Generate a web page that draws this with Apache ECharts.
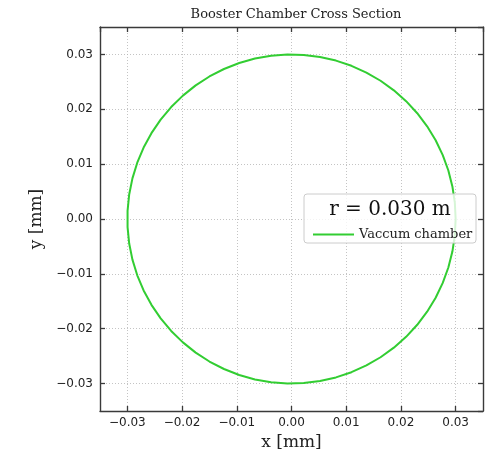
<!DOCTYPE html>
<html>
<head>
<meta charset="utf-8">
<script src="https://cdn.jsdelivr.net/npm/echarts@6/dist/echarts.min.js"></script>
<style>
  html, body { margin: 0; padding: 0; background: #fff; }
  #chart { width: 500px; height: 457px; }
</style>
</head>
<body>
<div id="chart"></div>
<script>
// Vacuum chamber outline: a circle of this radius (metres), drawn as a polygon
const chamberRadius = 0.030;
const vertexCount = 64;
const seriesName = 'Vaccum chamber';
const axisLimits = [-0.035, 0.035];

const outline = [];
for (let i = 0; i < vertexCount; i++) {
  const t = 2 * Math.PI * i / (vertexCount - 1);
  outline.push([chamberRadius * Math.cos(t), chamberRadius * Math.sin(t)]);
}

const SERIF = 'DejaVu Serif';
const SANS = 'DejaVu Sans';
const FRAME = '#3a3a3a';
const LINE_GREEN = '#32cd32';

function tickText(v) {
  const r = Math.round(v * 100) / 100;
  if (Math.abs(r) < 1e-12) return '0.00';
  return (r < 0 ? '\u2212' : '') + Math.abs(r).toFixed(2);
}

function mainAxis(name, pos, gap) {
  return {
    type: 'value', position: pos,
    min: axisLimits[0], max: axisLimits[1],
    minInterval: 0.01, maxInterval: 0.01, splitNumber: 7,
    name: name, nameLocation: 'middle', nameGap: gap,
    nameTextStyle: { fontFamily: SERIF, fontSize: 17, color: '#222' },
    axisLine: { show: true, onZero: false, lineStyle: { color: FRAME, width: 1.4 } },
    axisTick: { show: true, inside: true, length: 5, lineStyle: { color: FRAME, width: 1.3 } },
    axisLabel: {
      show: true, fontFamily: SANS, fontSize: 12, color: '#222',
      margin: pos === 'bottom' ? 6 : 7,
      showMinLabel: false, showMaxLabel: false,
      formatter: tickText
    },
    splitLine: { show: true, lineStyle: { color: '#b5b5b5', width: 0.8, type: [1, 2] } }
  };
}

function mirrorAxis(pos) {
  return {
    type: 'value', position: pos,
    min: axisLimits[0], max: axisLimits[1],
    minInterval: 0.01, maxInterval: 0.01, splitNumber: 7,
    axisLine: { show: true, onZero: false, lineStyle: { color: FRAME, width: 1.4 } },
    axisTick: { show: true, inside: true, length: 5, lineStyle: { color: FRAME, width: 1.3 } },
    axisLabel: { show: false },
    splitLine: { show: false }
  };
}

const yName = mainAxis('y [mm]', 'left', 51);
yName.nameRotate = 90;

const chart = echarts.init(document.getElementById('chart'), null, { renderer: 'canvas' });
chart.setOption({
  animation: false,
  backgroundColor: '#ffffff',
  title: {
    text: 'Booster Chamber Cross Section',
    left: 291, top: 3, textAlign: 'center',
    textStyle: { fontFamily: SERIF, fontSize: 13, fontWeight: 'normal', color: '#222' }
  },
  grid: { left: 100, right: 17, top: 27, bottom: 46, containLabel: false },
  xAxis: [mainAxis('x [mm]', 'bottom', 23), mirrorAxis('top')],
  yAxis: [yName, mirrorAxis('right')],
  legend: {
    left: 308, top: 223, z: 10,
    data: [{ name: seriesName, icon: 'rect' }],
    itemWidth: 41, itemHeight: 2,
    itemStyle: { color: LINE_GREEN },
    textStyle: { fontFamily: SERIF, fontSize: 13, color: '#222' }
  },
  graphic: [
    {
      type: 'rect', z: 8,
      shape: { x: 304, y: 194, width: 172, height: 49, r: 3 },
      style: { fill: 'rgba(255,255,255,0.8)', stroke: '#cccccc', lineWidth: 1 }
    },
    {
      type: 'text', z: 9, x: 390, y: 210,
      style: {
        text: 'r = ' + chamberRadius.toFixed(3) + ' m',
        fontFamily: SERIF, fontSize: 20, fill: '#111',
        align: 'center', verticalAlign: 'middle'
      }
    }
  ],
  series: [{
    name: seriesName,
    type: 'line',
    xAxisIndex: 0, yAxisIndex: 0,
    data: outline,
    showSymbol: false, symbol: 'none',
    smooth: false,
    lineStyle: { color: LINE_GREEN, width: 2 },
    itemStyle: { color: LINE_GREEN }
  }]
});
</script>
</body>
</html>
